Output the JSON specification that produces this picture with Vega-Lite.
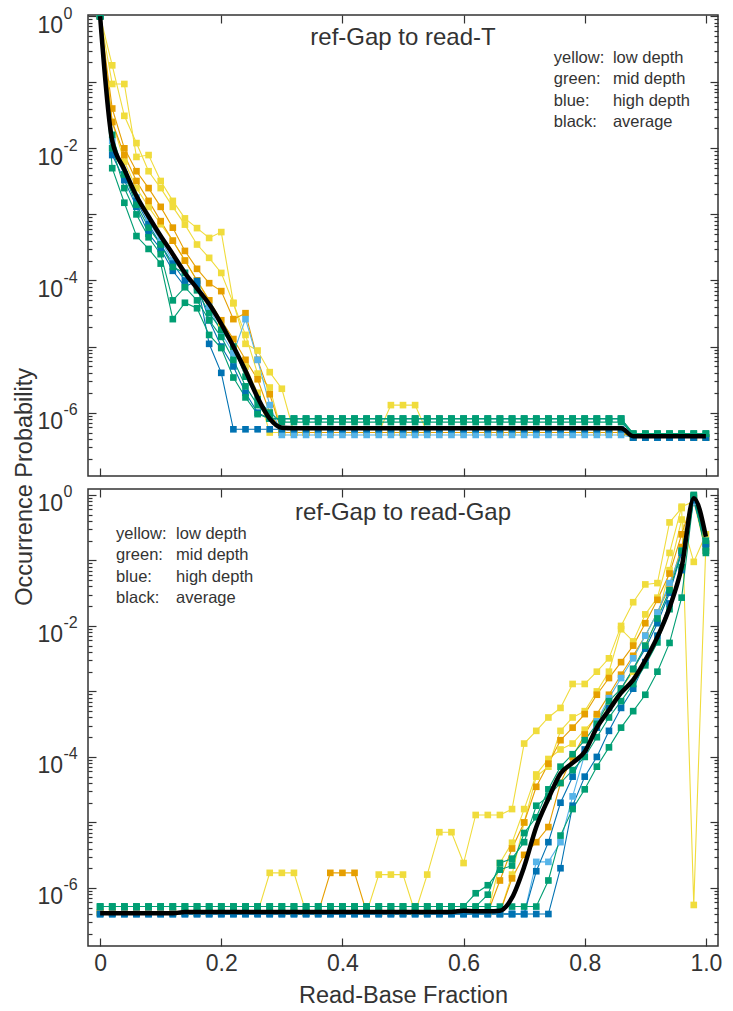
{
"$schema":"https://vega.github.io/schema/vega-lite/v6.json",
"padding":{"left":12,"top":4,"right":14,"bottom":0},
"config":{"font":"Liberation Sans","view":{"stroke":"#333","strokeWidth":1.5},
"axis":{"domain":false,"grid":false,"labelColor":"#333","titleColor":"#333","tickColor":"#333","tickWidth":1.2,"labelOverlap":false,"labelFlush":false,"titleFontWeight":"normal","labelFont":"Liberation Sans","titleFont":"Liberation Sans"},
"text":{"font":"Liberation Sans","color":"#333"},
"title":{"font":"Liberation Sans","fontWeight":"normal","color":"#333"}},
"title":{"text":"Occurrence Probability","orient":"left","anchor":"middle","fontSize":23.5,"offset":0,"dx":19},
"spacing":5,
"datasets":{
"T":[
{"s":"y1","x":0,"v":1},{"s":"y1","x":0.02,"v":0.094},{"s":"y1","x":0.04,"v":0.094},{"s":"y1","x":0.06,"v":0.0074},{"s":"y1","x":0.08,"v":0.0079},{"s":"y1","x":0.1,"v":0.0032},{"s":"y1","x":0.12,"v":0.0016},{"s":"y1","x":0.14,"v":0.00087},{"s":"y1","x":0.16,"v":0.00062},{"s":"y1","x":0.18,"v":0.00044},{"s":"y1","x":0.2,"v":0.00054},{"s":"y1","x":0.22,"v":4.6e-5},{"s":"y1","x":0.24,"v":1.1e-5},{"s":"y1","x":0.26,"v":8.7e-6},{"s":"y1","x":0.28,"v":4.1e-6},{"s":"y1","x":0.3,"v":2.3e-6},{"s":"y1","x":0.32,"v":5e-7},{"s":"y1","x":0.34,"v":5e-7},{"s":"y1","x":0.36,"v":5e-7},{"s":"y1","x":0.38,"v":5e-7},{"s":"y1","x":0.4,"v":5e-7},{"s":"y1","x":0.42,"v":5e-7},{"s":"y1","x":0.44,"v":5e-7},{"s":"y1","x":0.46,"v":5e-7},{"s":"y1","x":0.48,"v":5e-7},{"s":"y1","x":0.5,"v":5e-7},{"s":"y1","x":0.52,"v":5e-7},{"s":"y1","x":0.54,"v":5e-7},{"s":"y1","x":0.56,"v":5e-7},{"s":"y1","x":0.58,"v":5e-7},{"s":"y1","x":0.6,"v":5e-7},{"s":"y1","x":0.62,"v":5e-7},{"s":"y1","x":0.64,"v":5e-7},{"s":"y1","x":0.66,"v":5e-7},{"s":"y1","x":0.68,"v":5e-7},{"s":"y1","x":0.7,"v":5e-7},{"s":"y1","x":0.72,"v":5e-7},{"s":"y1","x":0.74,"v":5e-7},{"s":"y1","x":0.76,"v":5e-7},{"s":"y1","x":0.78,"v":5e-7},{"s":"y1","x":0.8,"v":5e-7},{"s":"y1","x":0.82,"v":5e-7},{"s":"y1","x":0.84,"v":5e-7},{"s":"y1","x":0.86,"v":5e-7},{"s":"y1","x":0.88,"v":4.2e-7},{"s":"y1","x":0.9,"v":4.2e-7},{"s":"y1","x":0.92,"v":4.2e-7},{"s":"y1","x":0.94,"v":4.2e-7},{"s":"y1","x":0.96,"v":4.2e-7},{"s":"y1","x":0.98,"v":4.2e-7},{"s":"y1","x":1,"v":4.2e-7},
{"s":"y2","x":0,"v":1},{"s":"y2","x":0.02,"v":0.18},{"s":"y2","x":0.04,"v":0.031},{"s":"y2","x":0.06,"v":0.012},{"s":"y2","x":0.08,"v":0.0045},{"s":"y2","x":0.1,"v":0.0025},{"s":"y2","x":0.12,"v":0.0013},{"s":"y2","x":0.14,"v":0.0007},{"s":"y2","x":0.16,"v":0.00035},{"s":"y2","x":0.18,"v":0.00022},{"s":"y2","x":0.2,"v":0.00013},{"s":"y2","x":0.22,"v":4.5e-5},{"s":"y2","x":0.24,"v":1.5e-5},{"s":"y2","x":0.26,"v":3.9e-6},{"s":"y2","x":0.28,"v":2.4e-6},{"s":"y2","x":0.3,"v":5e-7},{"s":"y2","x":0.32,"v":5e-7},{"s":"y2","x":0.34,"v":5e-7},{"s":"y2","x":0.36,"v":5e-7},{"s":"y2","x":0.38,"v":5e-7},{"s":"y2","x":0.4,"v":5e-7},{"s":"y2","x":0.42,"v":5e-7},{"s":"y2","x":0.44,"v":5e-7},{"s":"y2","x":0.46,"v":5e-7},{"s":"y2","x":0.48,"v":5e-7},{"s":"y2","x":0.5,"v":5e-7},{"s":"y2","x":0.52,"v":5e-7},{"s":"y2","x":0.54,"v":5e-7},{"s":"y2","x":0.56,"v":5e-7},{"s":"y2","x":0.58,"v":5e-7},{"s":"y2","x":0.6,"v":5e-7},{"s":"y2","x":0.62,"v":5e-7},{"s":"y2","x":0.64,"v":5e-7},{"s":"y2","x":0.66,"v":5e-7},{"s":"y2","x":0.68,"v":5e-7},{"s":"y2","x":0.7,"v":5e-7},{"s":"y2","x":0.72,"v":5e-7},{"s":"y2","x":0.74,"v":5e-7},{"s":"y2","x":0.76,"v":5e-7},{"s":"y2","x":0.78,"v":5e-7},{"s":"y2","x":0.8,"v":5e-7},{"s":"y2","x":0.82,"v":5e-7},{"s":"y2","x":0.84,"v":5e-7},{"s":"y2","x":0.86,"v":5e-7},{"s":"y2","x":0.88,"v":4.2e-7},{"s":"y2","x":0.9,"v":4.2e-7},{"s":"y2","x":0.92,"v":4.2e-7},{"s":"y2","x":0.94,"v":4.2e-7},{"s":"y2","x":0.96,"v":4.2e-7},{"s":"y2","x":0.98,"v":4.2e-7},{"s":"y2","x":1,"v":4.2e-7},
{"s":"y3","x":0,"v":1},{"s":"y3","x":0.02,"v":0.025},{"s":"y3","x":0.04,"v":0.0063},{"s":"y3","x":0.06,"v":0.0025},{"s":"y3","x":0.08,"v":0.0013},{"s":"y3","x":0.1,"v":0.00071},{"s":"y3","x":0.12,"v":0.0004},{"s":"y3","x":0.14,"v":0.0002},{"s":"y3","x":0.16,"v":0.0001},{"s":"y3","x":0.18,"v":5e-5},{"s":"y3","x":0.2,"v":2e-5},{"s":"y3","x":0.22,"v":1e-5},{"s":"y3","x":0.24,"v":5e-6},{"s":"y3","x":0.26,"v":2e-6},{"s":"y3","x":0.28,"v":5e-7},{"s":"y3","x":0.3,"v":5e-7},{"s":"y3","x":0.32,"v":5e-7},{"s":"y3","x":0.34,"v":5e-7},{"s":"y3","x":0.36,"v":5e-7},{"s":"y3","x":0.38,"v":5e-7},{"s":"y3","x":0.4,"v":5e-7},{"s":"y3","x":0.42,"v":5e-7},{"s":"y3","x":0.44,"v":5e-7},{"s":"y3","x":0.46,"v":5e-7},{"s":"y3","x":0.48,"v":1.3e-6},{"s":"y3","x":0.5,"v":1.3e-6},{"s":"y3","x":0.52,"v":1.3e-6},{"s":"y3","x":0.54,"v":5e-7},{"s":"y3","x":0.56,"v":5e-7},{"s":"y3","x":0.58,"v":5e-7},{"s":"y3","x":0.6,"v":5e-7},{"s":"y3","x":0.62,"v":5e-7},{"s":"y3","x":0.64,"v":5e-7},{"s":"y3","x":0.66,"v":5e-7},{"s":"y3","x":0.68,"v":5e-7},{"s":"y3","x":0.7,"v":5e-7},{"s":"y3","x":0.72,"v":5e-7},{"s":"y3","x":0.74,"v":5e-7},{"s":"y3","x":0.76,"v":5e-7},{"s":"y3","x":0.78,"v":5e-7},{"s":"y3","x":0.8,"v":5e-7},{"s":"y3","x":0.82,"v":5e-7},{"s":"y3","x":0.84,"v":5e-7},{"s":"y3","x":0.86,"v":5e-7},{"s":"y3","x":0.88,"v":4.2e-7},{"s":"y3","x":0.9,"v":4.2e-7},{"s":"y3","x":0.92,"v":4.2e-7},{"s":"y3","x":0.94,"v":4.2e-7},{"s":"y3","x":0.96,"v":4.2e-7},{"s":"y3","x":0.98,"v":4.2e-7},{"s":"y3","x":1,"v":4.2e-7},
{"s":"o1","x":0,"v":1},{"s":"o1","x":0.02,"v":0.04},{"s":"o1","x":0.04,"v":0.01},{"s":"o1","x":0.06,"v":0.0045},{"s":"o1","x":0.08,"v":0.0025},{"s":"o1","x":0.1,"v":0.0013},{"s":"o1","x":0.12,"v":0.00063},{"s":"o1","x":0.14,"v":0.00028},{"s":"o1","x":0.16,"v":0.00015},{"s":"o1","x":0.18,"v":9.1e-5},{"s":"o1","x":0.2,"v":6.9e-5},{"s":"o1","x":0.22,"v":2.6e-5},{"s":"o1","x":0.24,"v":3.2e-5},{"s":"o1","x":0.26,"v":6.3e-6},{"s":"o1","x":0.28,"v":1.9e-6},{"s":"o1","x":0.3,"v":5e-7},{"s":"o1","x":0.32,"v":5e-7},{"s":"o1","x":0.34,"v":5e-7},{"s":"o1","x":0.36,"v":5e-7},{"s":"o1","x":0.38,"v":5e-7},{"s":"o1","x":0.4,"v":5e-7},{"s":"o1","x":0.42,"v":5e-7},{"s":"o1","x":0.44,"v":5e-7},{"s":"o1","x":0.46,"v":5e-7},{"s":"o1","x":0.48,"v":5e-7},{"s":"o1","x":0.5,"v":5e-7},{"s":"o1","x":0.52,"v":5e-7},{"s":"o1","x":0.54,"v":5e-7},{"s":"o1","x":0.56,"v":5e-7},{"s":"o1","x":0.58,"v":5e-7},{"s":"o1","x":0.6,"v":5e-7},{"s":"o1","x":0.62,"v":5e-7},{"s":"o1","x":0.64,"v":5e-7},{"s":"o1","x":0.66,"v":5e-7},{"s":"o1","x":0.68,"v":5e-7},{"s":"o1","x":0.7,"v":5e-7},{"s":"o1","x":0.72,"v":5e-7},{"s":"o1","x":0.74,"v":5e-7},{"s":"o1","x":0.76,"v":5e-7},{"s":"o1","x":0.78,"v":5e-7},{"s":"o1","x":0.8,"v":5e-7},{"s":"o1","x":0.82,"v":5e-7},{"s":"o1","x":0.84,"v":5e-7},{"s":"o1","x":0.86,"v":5e-7},{"s":"o1","x":0.88,"v":4.2e-7},{"s":"o1","x":0.9,"v":4.2e-7},{"s":"o1","x":0.92,"v":4.2e-7},{"s":"o1","x":0.94,"v":4.2e-7},{"s":"o1","x":0.96,"v":4.2e-7},{"s":"o1","x":0.98,"v":4.2e-7},{"s":"o1","x":1,"v":4.2e-7},
{"s":"o2","x":0,"v":1},{"s":"o2","x":0.02,"v":0.025},{"s":"o2","x":0.04,"v":0.0079},{"s":"o2","x":0.06,"v":0.0032},{"s":"o2","x":0.08,"v":0.0016},{"s":"o2","x":0.1,"v":0.00079},{"s":"o2","x":0.12,"v":0.0004},{"s":"o2","x":0.14,"v":0.0002},{"s":"o2","x":0.16,"v":0.0001},{"s":"o2","x":0.18,"v":5e-5},{"s":"o2","x":0.2,"v":2.5e-5},{"s":"o2","x":0.22,"v":1.3e-5},{"s":"o2","x":0.24,"v":6.3e-6},{"s":"o2","x":0.26,"v":3.2e-6},{"s":"o2","x":0.28,"v":1e-6},{"s":"o2","x":0.3,"v":5e-7},{"s":"o2","x":0.32,"v":5e-7},{"s":"o2","x":0.34,"v":5e-7},{"s":"o2","x":0.36,"v":5e-7},{"s":"o2","x":0.38,"v":5e-7},{"s":"o2","x":0.4,"v":5e-7},{"s":"o2","x":0.42,"v":5e-7},{"s":"o2","x":0.44,"v":5e-7},{"s":"o2","x":0.46,"v":5e-7},{"s":"o2","x":0.48,"v":5e-7},{"s":"o2","x":0.5,"v":5e-7},{"s":"o2","x":0.52,"v":5e-7},{"s":"o2","x":0.54,"v":5e-7},{"s":"o2","x":0.56,"v":5e-7},{"s":"o2","x":0.58,"v":5e-7},{"s":"o2","x":0.6,"v":5e-7},{"s":"o2","x":0.62,"v":5e-7},{"s":"o2","x":0.64,"v":5e-7},{"s":"o2","x":0.66,"v":5e-7},{"s":"o2","x":0.68,"v":5e-7},{"s":"o2","x":0.7,"v":5e-7},{"s":"o2","x":0.72,"v":5e-7},{"s":"o2","x":0.74,"v":5e-7},{"s":"o2","x":0.76,"v":5e-7},{"s":"o2","x":0.78,"v":5e-7},{"s":"o2","x":0.8,"v":5e-7},{"s":"o2","x":0.82,"v":5e-7},{"s":"o2","x":0.84,"v":5e-7},{"s":"o2","x":0.86,"v":5e-7},{"s":"o2","x":0.88,"v":4.2e-7},{"s":"o2","x":0.9,"v":4.2e-7},{"s":"o2","x":0.92,"v":4.2e-7},{"s":"o2","x":0.94,"v":4.2e-7},{"s":"o2","x":0.96,"v":4.2e-7},{"s":"o2","x":0.98,"v":4.2e-7},{"s":"o2","x":1,"v":4.2e-7},
{"s":"l1","x":0,"v":1},{"s":"l1","x":0.02,"v":0.013},{"s":"l1","x":0.04,"v":0.004},{"s":"l1","x":0.06,"v":0.0018},{"s":"l1","x":0.08,"v":0.00079},{"s":"l1","x":0.1,"v":0.0004},{"s":"l1","x":0.12,"v":0.0002},{"s":"l1","x":0.14,"v":0.00013},{"s":"l1","x":0.16,"v":7.9e-5},{"s":"l1","x":0.18,"v":4e-5},{"s":"l1","x":0.2,"v":1.6e-5},{"s":"l1","x":0.22,"v":7.9e-6},{"s":"l1","x":0.24,"v":2.6e-5},{"s":"l1","x":0.26,"v":6.3e-6},{"s":"l1","x":0.28,"v":1.3e-6},{"s":"l1","x":0.3,"v":4.6e-7},{"s":"l1","x":0.32,"v":4.6e-7},{"s":"l1","x":0.34,"v":4.6e-7},{"s":"l1","x":0.36,"v":4.6e-7},{"s":"l1","x":0.38,"v":4.6e-7},{"s":"l1","x":0.4,"v":4.6e-7},{"s":"l1","x":0.42,"v":4.6e-7},{"s":"l1","x":0.44,"v":4.6e-7},{"s":"l1","x":0.46,"v":4.6e-7},{"s":"l1","x":0.48,"v":4.6e-7},{"s":"l1","x":0.5,"v":4.6e-7},{"s":"l1","x":0.52,"v":4.6e-7},{"s":"l1","x":0.54,"v":4.6e-7},{"s":"l1","x":0.56,"v":4.6e-7},{"s":"l1","x":0.58,"v":4.6e-7},{"s":"l1","x":0.6,"v":4.6e-7},{"s":"l1","x":0.62,"v":4.6e-7},{"s":"l1","x":0.64,"v":4.6e-7},{"s":"l1","x":0.66,"v":4.6e-7},{"s":"l1","x":0.68,"v":4.6e-7},{"s":"l1","x":0.7,"v":4.6e-7},{"s":"l1","x":0.72,"v":4.6e-7},{"s":"l1","x":0.74,"v":4.6e-7},{"s":"l1","x":0.76,"v":4.6e-7},{"s":"l1","x":0.78,"v":4.6e-7},{"s":"l1","x":0.8,"v":4.6e-7},{"s":"l1","x":0.82,"v":4.6e-7},{"s":"l1","x":0.84,"v":4.6e-7},{"s":"l1","x":0.86,"v":4.6e-7},{"s":"l1","x":0.88,"v":4.2e-7},{"s":"l1","x":0.9,"v":4.2e-7},{"s":"l1","x":0.92,"v":4.2e-7},{"s":"l1","x":0.94,"v":4.2e-7},{"s":"l1","x":0.96,"v":4.2e-7},{"s":"l1","x":0.98,"v":4.2e-7},{"s":"l1","x":1,"v":4.2e-7},
{"s":"b1","x":0,"v":1},{"s":"b1","x":0.02,"v":0.0079},{"s":"b1","x":0.04,"v":0.0033},{"s":"b1","x":0.06,"v":0.0013},{"s":"b1","x":0.08,"v":0.00051},{"s":"b1","x":0.1,"v":0.0003},{"s":"b1","x":0.12,"v":0.00014},{"s":"b1","x":0.14,"v":8.1e-5},{"s":"b1","x":0.16,"v":9.8e-5},{"s":"b1","x":0.18,"v":1.1e-5},{"s":"b1","x":0.2,"v":4e-6},{"s":"b1","x":0.22,"v":5.6e-7},{"s":"b1","x":0.24,"v":5.6e-7},{"s":"b1","x":0.26,"v":5.6e-7},{"s":"b1","x":0.28,"v":5.6e-7},{"s":"b1","x":0.3,"v":5.6e-7},{"s":"b1","x":0.32,"v":5.6e-7},{"s":"b1","x":0.34,"v":5.6e-7},{"s":"b1","x":0.36,"v":5.6e-7},{"s":"b1","x":0.38,"v":5.6e-7},{"s":"b1","x":0.4,"v":5.6e-7},{"s":"b1","x":0.42,"v":5.6e-7},{"s":"b1","x":0.44,"v":5.6e-7},{"s":"b1","x":0.46,"v":5.6e-7},{"s":"b1","x":0.48,"v":5.6e-7},{"s":"b1","x":0.5,"v":5.6e-7},{"s":"b1","x":0.52,"v":5.6e-7},{"s":"b1","x":0.54,"v":5.6e-7},{"s":"b1","x":0.56,"v":5.6e-7},{"s":"b1","x":0.58,"v":5.6e-7},{"s":"b1","x":0.6,"v":5.6e-7},{"s":"b1","x":0.62,"v":5.6e-7},{"s":"b1","x":0.64,"v":5.6e-7},{"s":"b1","x":0.66,"v":5.6e-7},{"s":"b1","x":0.68,"v":5.6e-7},{"s":"b1","x":0.7,"v":5.6e-7},{"s":"b1","x":0.72,"v":5.6e-7},{"s":"b1","x":0.74,"v":5.6e-7},{"s":"b1","x":0.76,"v":5.6e-7},{"s":"b1","x":0.78,"v":5.6e-7},{"s":"b1","x":0.8,"v":5.6e-7},{"s":"b1","x":0.82,"v":5.6e-7},{"s":"b1","x":0.84,"v":5.6e-7},{"s":"b1","x":0.86,"v":5.6e-7},{"s":"b1","x":0.88,"v":4.2e-7},{"s":"b1","x":0.9,"v":4.2e-7},{"s":"b1","x":0.92,"v":4.2e-7},{"s":"b1","x":0.94,"v":4.2e-7},{"s":"b1","x":0.96,"v":4.2e-7},{"s":"b1","x":0.98,"v":4.2e-7},{"s":"b1","x":1,"v":4.2e-7},
{"s":"b2","x":0,"v":1},{"s":"b2","x":0.02,"v":0.01},{"s":"b2","x":0.04,"v":0.004},{"s":"b2","x":0.06,"v":0.0016},{"s":"b2","x":0.08,"v":0.00071},{"s":"b2","x":0.1,"v":0.00035},{"s":"b2","x":0.12,"v":0.00018},{"s":"b2","x":0.14,"v":0.0001},{"s":"b2","x":0.16,"v":8.9e-5},{"s":"b2","x":0.18,"v":2.5e-5},{"s":"b2","x":0.2,"v":1e-5},{"s":"b2","x":0.22,"v":5e-6},{"s":"b2","x":0.24,"v":2e-6},{"s":"b2","x":0.26,"v":1e-6},{"s":"b2","x":0.28,"v":8.1e-7},{"s":"b2","x":0.3,"v":8.1e-7},{"s":"b2","x":0.32,"v":8.1e-7},{"s":"b2","x":0.34,"v":8.1e-7},{"s":"b2","x":0.36,"v":8.1e-7},{"s":"b2","x":0.38,"v":8.1e-7},{"s":"b2","x":0.4,"v":8.1e-7},{"s":"b2","x":0.42,"v":8.1e-7},{"s":"b2","x":0.44,"v":8.1e-7},{"s":"b2","x":0.46,"v":8.1e-7},{"s":"b2","x":0.48,"v":8.1e-7},{"s":"b2","x":0.5,"v":8.1e-7},{"s":"b2","x":0.52,"v":8.1e-7},{"s":"b2","x":0.54,"v":8.1e-7},{"s":"b2","x":0.56,"v":8.1e-7},{"s":"b2","x":0.58,"v":8.1e-7},{"s":"b2","x":0.6,"v":8.1e-7},{"s":"b2","x":0.62,"v":8.1e-7},{"s":"b2","x":0.64,"v":8.1e-7},{"s":"b2","x":0.66,"v":8.1e-7},{"s":"b2","x":0.68,"v":8.1e-7},{"s":"b2","x":0.7,"v":8.1e-7},{"s":"b2","x":0.72,"v":8.1e-7},{"s":"b2","x":0.74,"v":8.1e-7},{"s":"b2","x":0.76,"v":8.1e-7},{"s":"b2","x":0.78,"v":8.1e-7},{"s":"b2","x":0.8,"v":8.1e-7},{"s":"b2","x":0.82,"v":8.1e-7},{"s":"b2","x":0.84,"v":8.1e-7},{"s":"b2","x":0.86,"v":8.1e-7},{"s":"b2","x":0.88,"v":4.2e-7},{"s":"b2","x":0.9,"v":4.2e-7},{"s":"b2","x":0.92,"v":4.2e-7},{"s":"b2","x":0.94,"v":4.2e-7},{"s":"b2","x":0.96,"v":4.2e-7},{"s":"b2","x":0.98,"v":4.2e-7},{"s":"b2","x":1,"v":4.2e-7},
{"s":"g1","x":0,"v":1},{"s":"g1","x":0.02,"v":0.005},{"s":"g1","x":0.04,"v":0.0015},{"s":"g1","x":0.06,"v":0.00047},{"s":"g1","x":0.08,"v":0.0003},{"s":"g1","x":0.1,"v":0.00018},{"s":"g1","x":0.12,"v":2.6e-5},{"s":"g1","x":0.14,"v":4.6e-5},{"s":"g1","x":0.16,"v":3.8e-5},{"s":"g1","x":0.18,"v":1.5e-5},{"s":"g1","x":0.2,"v":9.5e-6},{"s":"g1","x":0.22,"v":3.4e-6},{"s":"g1","x":0.24,"v":1.7e-6},{"s":"g1","x":0.26,"v":9.5e-7},{"s":"g1","x":0.28,"v":8.1e-7},{"s":"g1","x":0.3,"v":8.1e-7},{"s":"g1","x":0.32,"v":8.1e-7},{"s":"g1","x":0.34,"v":8.1e-7},{"s":"g1","x":0.36,"v":8.1e-7},{"s":"g1","x":0.38,"v":8.1e-7},{"s":"g1","x":0.4,"v":8.1e-7},{"s":"g1","x":0.42,"v":8.1e-7},{"s":"g1","x":0.44,"v":8.1e-7},{"s":"g1","x":0.46,"v":8.1e-7},{"s":"g1","x":0.48,"v":8.1e-7},{"s":"g1","x":0.5,"v":8.1e-7},{"s":"g1","x":0.52,"v":8.1e-7},{"s":"g1","x":0.54,"v":8.1e-7},{"s":"g1","x":0.56,"v":8.1e-7},{"s":"g1","x":0.58,"v":8.1e-7},{"s":"g1","x":0.6,"v":8.1e-7},{"s":"g1","x":0.62,"v":8.1e-7},{"s":"g1","x":0.64,"v":8.1e-7},{"s":"g1","x":0.66,"v":8.1e-7},{"s":"g1","x":0.68,"v":8.1e-7},{"s":"g1","x":0.7,"v":8.1e-7},{"s":"g1","x":0.72,"v":8.1e-7},{"s":"g1","x":0.74,"v":8.1e-7},{"s":"g1","x":0.76,"v":8.1e-7},{"s":"g1","x":0.78,"v":8.1e-7},{"s":"g1","x":0.8,"v":8.1e-7},{"s":"g1","x":0.82,"v":8.1e-7},{"s":"g1","x":0.84,"v":8.1e-7},{"s":"g1","x":0.86,"v":8.1e-7},{"s":"g1","x":0.88,"v":4.8e-7},{"s":"g1","x":0.9,"v":4.8e-7},{"s":"g1","x":0.92,"v":4.8e-7},{"s":"g1","x":0.94,"v":4.8e-7},{"s":"g1","x":0.96,"v":4.8e-7},{"s":"g1","x":0.98,"v":4.8e-7},{"s":"g1","x":1,"v":4.8e-7},
{"s":"g2","x":0,"v":1},{"s":"g2","x":0.02,"v":0.01},{"s":"g2","x":0.04,"v":0.0025},{"s":"g2","x":0.06,"v":0.001},{"s":"g2","x":0.08,"v":0.00045},{"s":"g2","x":0.1,"v":0.00025},{"s":"g2","x":0.12,"v":5e-5},{"s":"g2","x":0.14,"v":7.9e-5},{"s":"g2","x":0.16,"v":5e-5},{"s":"g2","x":0.18,"v":2.5e-5},{"s":"g2","x":0.2,"v":1.4e-5},{"s":"g2","x":0.22,"v":6.3e-6},{"s":"g2","x":0.24,"v":2.5e-6},{"s":"g2","x":0.26,"v":1.3e-6},{"s":"g2","x":0.28,"v":8.1e-7},{"s":"g2","x":0.3,"v":8.1e-7},{"s":"g2","x":0.32,"v":8.1e-7},{"s":"g2","x":0.34,"v":8.1e-7},{"s":"g2","x":0.36,"v":8.1e-7},{"s":"g2","x":0.38,"v":8.1e-7},{"s":"g2","x":0.4,"v":8.1e-7},{"s":"g2","x":0.42,"v":8.1e-7},{"s":"g2","x":0.44,"v":8.1e-7},{"s":"g2","x":0.46,"v":8.1e-7},{"s":"g2","x":0.48,"v":8.1e-7},{"s":"g2","x":0.5,"v":8.1e-7},{"s":"g2","x":0.52,"v":8.1e-7},{"s":"g2","x":0.54,"v":8.1e-7},{"s":"g2","x":0.56,"v":8.1e-7},{"s":"g2","x":0.58,"v":8.1e-7},{"s":"g2","x":0.6,"v":8.1e-7},{"s":"g2","x":0.62,"v":8.1e-7},{"s":"g2","x":0.64,"v":8.1e-7},{"s":"g2","x":0.66,"v":8.1e-7},{"s":"g2","x":0.68,"v":8.1e-7},{"s":"g2","x":0.7,"v":8.1e-7},{"s":"g2","x":0.72,"v":8.1e-7},{"s":"g2","x":0.74,"v":8.1e-7},{"s":"g2","x":0.76,"v":8.1e-7},{"s":"g2","x":0.78,"v":8.1e-7},{"s":"g2","x":0.8,"v":8.1e-7},{"s":"g2","x":0.82,"v":8.1e-7},{"s":"g2","x":0.84,"v":8.1e-7},{"s":"g2","x":0.86,"v":8.1e-7},{"s":"g2","x":0.88,"v":4.8e-7},{"s":"g2","x":0.9,"v":4.8e-7},{"s":"g2","x":0.92,"v":4.8e-7},{"s":"g2","x":0.94,"v":4.8e-7},{"s":"g2","x":0.96,"v":4.8e-7},{"s":"g2","x":0.98,"v":4.8e-7},{"s":"g2","x":1,"v":4.8e-7},
{"s":"g3","x":0,"v":1},{"s":"g3","x":0.02,"v":0.016},{"s":"g3","x":0.04,"v":0.004},{"s":"g3","x":0.06,"v":0.0014},{"s":"g3","x":0.08,"v":0.00063},{"s":"g3","x":0.1,"v":0.00035},{"s":"g3","x":0.12,"v":0.00016},{"s":"g3","x":0.14,"v":0.00013},{"s":"g3","x":0.16,"v":7.1e-5},{"s":"g3","x":0.18,"v":3.2e-5},{"s":"g3","x":0.2,"v":1.8e-5},{"s":"g3","x":0.22,"v":1e-5},{"s":"g3","x":0.24,"v":3.5e-6},{"s":"g3","x":0.26,"v":1.6e-6},{"s":"g3","x":0.28,"v":1e-6},{"s":"g3","x":0.3,"v":7.2e-7},{"s":"g3","x":0.32,"v":7.2e-7},{"s":"g3","x":0.34,"v":7.2e-7},{"s":"g3","x":0.36,"v":7.2e-7},{"s":"g3","x":0.38,"v":7.2e-7},{"s":"g3","x":0.4,"v":7.2e-7},{"s":"g3","x":0.42,"v":7.2e-7},{"s":"g3","x":0.44,"v":7.2e-7},{"s":"g3","x":0.46,"v":7.2e-7},{"s":"g3","x":0.48,"v":7.2e-7},{"s":"g3","x":0.5,"v":7.2e-7},{"s":"g3","x":0.52,"v":7.2e-7},{"s":"g3","x":0.54,"v":7.2e-7},{"s":"g3","x":0.56,"v":7.2e-7},{"s":"g3","x":0.58,"v":7.2e-7},{"s":"g3","x":0.6,"v":7.2e-7},{"s":"g3","x":0.62,"v":7.2e-7},{"s":"g3","x":0.64,"v":7.2e-7},{"s":"g3","x":0.66,"v":7.2e-7},{"s":"g3","x":0.68,"v":7.2e-7},{"s":"g3","x":0.7,"v":7.2e-7},{"s":"g3","x":0.72,"v":7.2e-7},{"s":"g3","x":0.74,"v":7.2e-7},{"s":"g3","x":0.76,"v":7.2e-7},{"s":"g3","x":0.78,"v":7.2e-7},{"s":"g3","x":0.8,"v":7.2e-7},{"s":"g3","x":0.82,"v":7.2e-7},{"s":"g3","x":0.84,"v":7.2e-7},{"s":"g3","x":0.86,"v":7.2e-7},{"s":"g3","x":0.88,"v":4.8e-7},{"s":"g3","x":0.9,"v":4.8e-7},{"s":"g3","x":0.92,"v":4.8e-7},{"s":"g3","x":0.94,"v":4.8e-7},{"s":"g3","x":0.96,"v":4.8e-7},{"s":"g3","x":0.98,"v":4.8e-7},{"s":"g3","x":1,"v":4.8e-7},
{"s":"k","x":0,"v":1},{"s":"k","x":0.02,"v":0.013},{"s":"k","x":0.04,"v":0.0048},{"s":"k","x":0.06,"v":0.0019},{"s":"k","x":0.08,"v":0.00093},{"s":"k","x":0.1,"v":0.00047},{"s":"k","x":0.12,"v":0.00025},{"s":"k","x":0.14,"v":0.00013},{"s":"k","x":0.16,"v":7.6e-5},{"s":"k","x":0.18,"v":4.4e-5},{"s":"k","x":0.2,"v":2.2e-5},{"s":"k","x":0.22,"v":1e-5},{"s":"k","x":0.24,"v":4.3e-6},{"s":"k","x":0.26,"v":1.7e-6},{"s":"k","x":0.28,"v":8.1e-7},{"s":"k","x":0.3,"v":5.9e-7},{"s":"k","x":0.32,"v":5.8e-7},{"s":"k","x":0.34,"v":5.8e-7},{"s":"k","x":0.36,"v":5.8e-7},{"s":"k","x":0.38,"v":5.8e-7},{"s":"k","x":0.4,"v":5.8e-7},{"s":"k","x":0.42,"v":5.8e-7},{"s":"k","x":0.44,"v":5.8e-7},{"s":"k","x":0.46,"v":5.8e-7},{"s":"k","x":0.48,"v":5.8e-7},{"s":"k","x":0.5,"v":5.8e-7},{"s":"k","x":0.52,"v":5.8e-7},{"s":"k","x":0.54,"v":5.8e-7},{"s":"k","x":0.56,"v":5.8e-7},{"s":"k","x":0.58,"v":5.8e-7},{"s":"k","x":0.6,"v":5.8e-7},{"s":"k","x":0.62,"v":5.8e-7},{"s":"k","x":0.64,"v":5.8e-7},{"s":"k","x":0.66,"v":5.8e-7},{"s":"k","x":0.68,"v":5.8e-7},{"s":"k","x":0.7,"v":5.8e-7},{"s":"k","x":0.72,"v":5.8e-7},{"s":"k","x":0.74,"v":5.8e-7},{"s":"k","x":0.76,"v":5.8e-7},{"s":"k","x":0.78,"v":5.8e-7},{"s":"k","x":0.8,"v":5.8e-7},{"s":"k","x":0.82,"v":5.8e-7},{"s":"k","x":0.84,"v":5.8e-7},{"s":"k","x":0.86,"v":5.8e-7},{"s":"k","x":0.88,"v":4.4e-7},{"s":"k","x":0.9,"v":4.4e-7},{"s":"k","x":0.92,"v":4.4e-7},{"s":"k","x":0.94,"v":4.4e-7},{"s":"k","x":0.96,"v":4.4e-7},{"s":"k","x":0.98,"v":4.4e-7},{"s":"k","x":1,"v":4.4e-7}
],
"G":[
{"s":"y1","x":0,"v":4.2e-7},{"s":"y1","x":0.02,"v":4.2e-7},{"s":"y1","x":0.04,"v":4.2e-7},{"s":"y1","x":0.06,"v":4.2e-7},{"s":"y1","x":0.08,"v":4.2e-7},{"s":"y1","x":0.1,"v":4.2e-7},{"s":"y1","x":0.12,"v":4.2e-7},{"s":"y1","x":0.14,"v":4.2e-7},{"s":"y1","x":0.16,"v":4.2e-7},{"s":"y1","x":0.18,"v":4.2e-7},{"s":"y1","x":0.2,"v":4.2e-7},{"s":"y1","x":0.22,"v":4.2e-7},{"s":"y1","x":0.24,"v":4.2e-7},{"s":"y1","x":0.26,"v":4.2e-7},{"s":"y1","x":0.28,"v":1.7e-6},{"s":"y1","x":0.3,"v":1.7e-6},{"s":"y1","x":0.32,"v":1.7e-6},{"s":"y1","x":0.34,"v":4.2e-7},{"s":"y1","x":0.36,"v":4.2e-7},{"s":"y1","x":0.38,"v":4.2e-7},{"s":"y1","x":0.4,"v":4.2e-7},{"s":"y1","x":0.42,"v":4.2e-7},{"s":"y1","x":0.44,"v":4.2e-7},{"s":"y1","x":0.46,"v":1.6e-6},{"s":"y1","x":0.48,"v":1.6e-6},{"s":"y1","x":0.5,"v":1.6e-6},{"s":"y1","x":0.52,"v":4.2e-7},{"s":"y1","x":0.54,"v":1.6e-6},{"s":"y1","x":0.56,"v":7.1e-6},{"s":"y1","x":0.58,"v":7.1e-6},{"s":"y1","x":0.6,"v":2.4e-6},{"s":"y1","x":0.62,"v":1.3e-5},{"s":"y1","x":0.64,"v":1.3e-5},{"s":"y1","x":0.66,"v":1.3e-5},{"s":"y1","x":0.68,"v":1.6e-5},{"s":"y1","x":0.7,"v":0.00016},{"s":"y1","x":0.72,"v":0.00025},{"s":"y1","x":0.74,"v":0.0004},{"s":"y1","x":0.76,"v":0.00056},{"s":"y1","x":0.78,"v":0.0013},{"s":"y1","x":0.8,"v":0.0013},{"s":"y1","x":0.82,"v":0.002},{"s":"y1","x":0.84,"v":0.0032},{"s":"y1","x":0.86,"v":0.01},{"s":"y1","x":0.88,"v":0.023},{"s":"y1","x":0.9,"v":0.043},{"s":"y1","x":0.92,"v":0.045},{"s":"y1","x":0.94,"v":0.38},{"s":"y1","x":0.96,"v":0.63},{"s":"y1","x":0.98,"v":5.5e-7},{"s":"y1","x":1,"v":0.18},
{"s":"y2","x":0,"v":4.2e-7},{"s":"y2","x":0.02,"v":4.2e-7},{"s":"y2","x":0.04,"v":4.2e-7},{"s":"y2","x":0.06,"v":4.2e-7},{"s":"y2","x":0.08,"v":4.2e-7},{"s":"y2","x":0.1,"v":4.2e-7},{"s":"y2","x":0.12,"v":4.2e-7},{"s":"y2","x":0.14,"v":4.2e-7},{"s":"y2","x":0.16,"v":4.2e-7},{"s":"y2","x":0.18,"v":4.2e-7},{"s":"y2","x":0.2,"v":4.2e-7},{"s":"y2","x":0.22,"v":4.2e-7},{"s":"y2","x":0.24,"v":4.2e-7},{"s":"y2","x":0.26,"v":4.2e-7},{"s":"y2","x":0.28,"v":4.2e-7},{"s":"y2","x":0.3,"v":4.2e-7},{"s":"y2","x":0.32,"v":4.2e-7},{"s":"y2","x":0.34,"v":4.2e-7},{"s":"y2","x":0.36,"v":4.2e-7},{"s":"y2","x":0.38,"v":4.2e-7},{"s":"y2","x":0.4,"v":4.2e-7},{"s":"y2","x":0.42,"v":4.2e-7},{"s":"y2","x":0.44,"v":4.2e-7},{"s":"y2","x":0.46,"v":4.2e-7},{"s":"y2","x":0.48,"v":4.2e-7},{"s":"y2","x":0.5,"v":4.2e-7},{"s":"y2","x":0.52,"v":4.2e-7},{"s":"y2","x":0.54,"v":4.2e-7},{"s":"y2","x":0.56,"v":4.2e-7},{"s":"y2","x":0.58,"v":4.2e-7},{"s":"y2","x":0.6,"v":4.2e-7},{"s":"y2","x":0.62,"v":4.2e-7},{"s":"y2","x":0.64,"v":4.2e-7},{"s":"y2","x":0.66,"v":2.4e-6},{"s":"y2","x":0.68,"v":4.9e-6},{"s":"y2","x":0.7,"v":1.6e-5},{"s":"y2","x":0.72,"v":5.4e-5},{"s":"y2","x":0.74,"v":9.3e-5},{"s":"y2","x":0.76,"v":0.00013},{"s":"y2","x":0.78,"v":0.00016},{"s":"y2","x":0.8,"v":0.00026},{"s":"y2","x":0.82,"v":0.00041},{"s":"y2","x":0.84,"v":0.00058},{"s":"y2","x":0.86,"v":0.0011},{"s":"y2","x":0.88,"v":0.002},{"s":"y2","x":0.9,"v":0.005},{"s":"y2","x":0.92,"v":0.013},{"s":"y2","x":0.94,"v":0.071},{"s":"y2","x":0.96,"v":0.42},{"s":"y2","x":0.98,"v":0.095},{"s":"y2","x":1,"v":0.25},
{"s":"y3","x":0,"v":4.2e-7},{"s":"y3","x":0.02,"v":4.2e-7},{"s":"y3","x":0.04,"v":4.2e-7},{"s":"y3","x":0.06,"v":4.2e-7},{"s":"y3","x":0.08,"v":4.2e-7},{"s":"y3","x":0.1,"v":4.2e-7},{"s":"y3","x":0.12,"v":4.2e-7},{"s":"y3","x":0.14,"v":4.2e-7},{"s":"y3","x":0.16,"v":4.2e-7},{"s":"y3","x":0.18,"v":4.2e-7},{"s":"y3","x":0.2,"v":4.2e-7},{"s":"y3","x":0.22,"v":4.2e-7},{"s":"y3","x":0.24,"v":4.2e-7},{"s":"y3","x":0.26,"v":4.2e-7},{"s":"y3","x":0.28,"v":4.2e-7},{"s":"y3","x":0.3,"v":4.2e-7},{"s":"y3","x":0.32,"v":4.2e-7},{"s":"y3","x":0.34,"v":4.2e-7},{"s":"y3","x":0.36,"v":4.2e-7},{"s":"y3","x":0.38,"v":4.2e-7},{"s":"y3","x":0.4,"v":4.2e-7},{"s":"y3","x":0.42,"v":4.2e-7},{"s":"y3","x":0.44,"v":4.2e-7},{"s":"y3","x":0.46,"v":4.2e-7},{"s":"y3","x":0.48,"v":4.2e-7},{"s":"y3","x":0.5,"v":4.2e-7},{"s":"y3","x":0.52,"v":4.2e-7},{"s":"y3","x":0.54,"v":4.2e-7},{"s":"y3","x":0.56,"v":4.2e-7},{"s":"y3","x":0.58,"v":4.2e-7},{"s":"y3","x":0.6,"v":4.2e-7},{"s":"y3","x":0.62,"v":4.2e-7},{"s":"y3","x":0.64,"v":4.2e-7},{"s":"y3","x":0.66,"v":4.2e-7},{"s":"y3","x":0.68,"v":1.6e-6},{"s":"y3","x":0.7,"v":1e-5},{"s":"y3","x":0.72,"v":5e-5},{"s":"y3","x":0.74,"v":7.1e-5},{"s":"y3","x":0.76,"v":0.00025},{"s":"y3","x":0.78,"v":0.0004},{"s":"y3","x":0.8,"v":0.0005},{"s":"y3","x":0.82,"v":0.001},{"s":"y3","x":0.84,"v":0.002},{"s":"y3","x":0.86,"v":0.0089},{"s":"y3","x":0.88,"v":0.0058},{"s":"y3","x":0.9,"v":0.015},{"s":"y3","x":0.92,"v":0.027},{"s":"y3","x":0.94,"v":0.13},{"s":"y3","x":0.96,"v":0.66},{"s":"y3","x":0.98,"v":0.79},{"s":"y3","x":1,"v":0.14},
{"s":"o1","x":0,"v":4.2e-7},{"s":"o1","x":0.02,"v":4.2e-7},{"s":"o1","x":0.04,"v":4.2e-7},{"s":"o1","x":0.06,"v":4.2e-7},{"s":"o1","x":0.08,"v":4.2e-7},{"s":"o1","x":0.1,"v":4.2e-7},{"s":"o1","x":0.12,"v":4.2e-7},{"s":"o1","x":0.14,"v":4.2e-7},{"s":"o1","x":0.16,"v":4.2e-7},{"s":"o1","x":0.18,"v":4.2e-7},{"s":"o1","x":0.2,"v":4.2e-7},{"s":"o1","x":0.22,"v":4.2e-7},{"s":"o1","x":0.24,"v":4.2e-7},{"s":"o1","x":0.26,"v":4.2e-7},{"s":"o1","x":0.28,"v":4.2e-7},{"s":"o1","x":0.3,"v":4.2e-7},{"s":"o1","x":0.32,"v":4.2e-7},{"s":"o1","x":0.34,"v":4.2e-7},{"s":"o1","x":0.36,"v":4.2e-7},{"s":"o1","x":0.38,"v":1.7e-6},{"s":"o1","x":0.4,"v":1.7e-6},{"s":"o1","x":0.42,"v":1.7e-6},{"s":"o1","x":0.44,"v":4.2e-7},{"s":"o1","x":0.46,"v":4.2e-7},{"s":"o1","x":0.48,"v":4.2e-7},{"s":"o1","x":0.5,"v":4.2e-7},{"s":"o1","x":0.52,"v":4.2e-7},{"s":"o1","x":0.54,"v":4.2e-7},{"s":"o1","x":0.56,"v":4.2e-7},{"s":"o1","x":0.58,"v":4.2e-7},{"s":"o1","x":0.6,"v":4.2e-7},{"s":"o1","x":0.62,"v":4.2e-7},{"s":"o1","x":0.64,"v":4.2e-7},{"s":"o1","x":0.66,"v":1.3e-6},{"s":"o1","x":0.68,"v":4e-6},{"s":"o1","x":0.7,"v":1e-5},{"s":"o1","x":0.72,"v":3.5e-5},{"s":"o1","x":0.74,"v":7.9e-5},{"s":"o1","x":0.76,"v":0.00018},{"s":"o1","x":0.78,"v":0.00028},{"s":"o1","x":0.8,"v":0.00045},{"s":"o1","x":0.82,"v":0.00089},{"s":"o1","x":0.84,"v":0.0016},{"s":"o1","x":0.86,"v":0.0028},{"s":"o1","x":0.88,"v":0.005},{"s":"o1","x":0.9,"v":0.011},{"s":"o1","x":0.92,"v":0.025},{"s":"o1","x":0.94,"v":0.063},{"s":"o1","x":0.96,"v":0.25},{"s":"o1","x":0.98,"v":0.93},{"s":"o1","x":1,"v":0.18},
{"s":"o2","x":0,"v":4.2e-7},{"s":"o2","x":0.02,"v":4.2e-7},{"s":"o2","x":0.04,"v":4.2e-7},{"s":"o2","x":0.06,"v":4.2e-7},{"s":"o2","x":0.08,"v":4.2e-7},{"s":"o2","x":0.1,"v":4.2e-7},{"s":"o2","x":0.12,"v":4.2e-7},{"s":"o2","x":0.14,"v":4.2e-7},{"s":"o2","x":0.16,"v":4.2e-7},{"s":"o2","x":0.18,"v":4.2e-7},{"s":"o2","x":0.2,"v":4.2e-7},{"s":"o2","x":0.22,"v":4.2e-7},{"s":"o2","x":0.24,"v":4.2e-7},{"s":"o2","x":0.26,"v":4.2e-7},{"s":"o2","x":0.28,"v":4.2e-7},{"s":"o2","x":0.3,"v":4.2e-7},{"s":"o2","x":0.32,"v":4.2e-7},{"s":"o2","x":0.34,"v":4.2e-7},{"s":"o2","x":0.36,"v":4.2e-7},{"s":"o2","x":0.38,"v":4.2e-7},{"s":"o2","x":0.4,"v":4.2e-7},{"s":"o2","x":0.42,"v":4.2e-7},{"s":"o2","x":0.44,"v":4.2e-7},{"s":"o2","x":0.46,"v":4.2e-7},{"s":"o2","x":0.48,"v":4.2e-7},{"s":"o2","x":0.5,"v":4.2e-7},{"s":"o2","x":0.52,"v":4.2e-7},{"s":"o2","x":0.54,"v":4.2e-7},{"s":"o2","x":0.56,"v":4.2e-7},{"s":"o2","x":0.58,"v":4.2e-7},{"s":"o2","x":0.6,"v":4.2e-7},{"s":"o2","x":0.62,"v":4.2e-7},{"s":"o2","x":0.64,"v":4.2e-7},{"s":"o2","x":0.66,"v":4.2e-7},{"s":"o2","x":0.68,"v":1.4e-6},{"s":"o2","x":0.7,"v":3.2e-6},{"s":"o2","x":0.72,"v":5e-6},{"s":"o2","x":0.74,"v":8.5e-6},{"s":"o2","x":0.76,"v":4e-5},{"s":"o2","x":0.78,"v":0.0001},{"s":"o2","x":0.8,"v":0.00022},{"s":"o2","x":0.82,"v":0.00045},{"s":"o2","x":0.84,"v":0.00089},{"s":"o2","x":0.86,"v":0.0018},{"s":"o2","x":0.88,"v":0.0035},{"s":"o2","x":0.9,"v":0.0071},{"s":"o2","x":0.92,"v":0.016},{"s":"o2","x":0.94,"v":0.04},{"s":"o2","x":0.96,"v":0.16},{"s":"o2","x":0.98,"v":0.89},{"s":"o2","x":1,"v":0.16},
{"s":"l1","x":0,"v":4e-7},{"s":"l1","x":0.02,"v":4e-7},{"s":"l1","x":0.04,"v":4e-7},{"s":"l1","x":0.06,"v":4e-7},{"s":"l1","x":0.08,"v":4e-7},{"s":"l1","x":0.1,"v":4e-7},{"s":"l1","x":0.12,"v":4e-7},{"s":"l1","x":0.14,"v":4e-7},{"s":"l1","x":0.16,"v":4e-7},{"s":"l1","x":0.18,"v":4e-7},{"s":"l1","x":0.2,"v":4e-7},{"s":"l1","x":0.22,"v":4e-7},{"s":"l1","x":0.24,"v":4e-7},{"s":"l1","x":0.26,"v":4e-7},{"s":"l1","x":0.28,"v":4e-7},{"s":"l1","x":0.3,"v":4e-7},{"s":"l1","x":0.32,"v":4e-7},{"s":"l1","x":0.34,"v":4e-7},{"s":"l1","x":0.36,"v":4e-7},{"s":"l1","x":0.38,"v":4e-7},{"s":"l1","x":0.4,"v":4e-7},{"s":"l1","x":0.42,"v":4e-7},{"s":"l1","x":0.44,"v":4e-7},{"s":"l1","x":0.46,"v":4e-7},{"s":"l1","x":0.48,"v":4e-7},{"s":"l1","x":0.5,"v":4e-7},{"s":"l1","x":0.52,"v":4e-7},{"s":"l1","x":0.54,"v":4e-7},{"s":"l1","x":0.56,"v":4e-7},{"s":"l1","x":0.58,"v":4e-7},{"s":"l1","x":0.6,"v":4e-7},{"s":"l1","x":0.62,"v":4e-7},{"s":"l1","x":0.64,"v":4e-7},{"s":"l1","x":0.66,"v":4e-7},{"s":"l1","x":0.68,"v":4e-7},{"s":"l1","x":0.7,"v":4e-7},{"s":"l1","x":0.72,"v":2.5e-6},{"s":"l1","x":0.74,"v":2.5e-6},{"s":"l1","x":0.76,"v":5e-6},{"s":"l1","x":0.78,"v":2.5e-5},{"s":"l1","x":0.8,"v":0.00011},{"s":"l1","x":0.82,"v":0.00035},{"s":"l1","x":0.84,"v":0.00079},{"s":"l1","x":0.86,"v":0.0016},{"s":"l1","x":0.88,"v":0.0032},{"s":"l1","x":0.9,"v":0.0071},{"s":"l1","x":0.92,"v":0.016},{"s":"l1","x":0.94,"v":0.045},{"s":"l1","x":0.96,"v":0.14},{"s":"l1","x":0.98,"v":0.79},{"s":"l1","x":1,"v":0.18},
{"s":"b1","x":0,"v":4e-7},{"s":"b1","x":0.02,"v":4e-7},{"s":"b1","x":0.04,"v":4e-7},{"s":"b1","x":0.06,"v":4e-7},{"s":"b1","x":0.08,"v":4e-7},{"s":"b1","x":0.1,"v":4e-7},{"s":"b1","x":0.12,"v":4e-7},{"s":"b1","x":0.14,"v":4e-7},{"s":"b1","x":0.16,"v":4e-7},{"s":"b1","x":0.18,"v":4e-7},{"s":"b1","x":0.2,"v":4e-7},{"s":"b1","x":0.22,"v":4e-7},{"s":"b1","x":0.24,"v":4e-7},{"s":"b1","x":0.26,"v":4e-7},{"s":"b1","x":0.28,"v":4e-7},{"s":"b1","x":0.3,"v":4e-7},{"s":"b1","x":0.32,"v":4e-7},{"s":"b1","x":0.34,"v":4e-7},{"s":"b1","x":0.36,"v":4e-7},{"s":"b1","x":0.38,"v":4e-7},{"s":"b1","x":0.4,"v":4e-7},{"s":"b1","x":0.42,"v":4e-7},{"s":"b1","x":0.44,"v":4e-7},{"s":"b1","x":0.46,"v":4e-7},{"s":"b1","x":0.48,"v":4e-7},{"s":"b1","x":0.5,"v":4e-7},{"s":"b1","x":0.52,"v":4e-7},{"s":"b1","x":0.54,"v":4e-7},{"s":"b1","x":0.56,"v":4e-7},{"s":"b1","x":0.58,"v":4e-7},{"s":"b1","x":0.6,"v":4e-7},{"s":"b1","x":0.62,"v":4e-7},{"s":"b1","x":0.64,"v":4e-7},{"s":"b1","x":0.66,"v":4e-7},{"s":"b1","x":0.68,"v":4e-7},{"s":"b1","x":0.7,"v":4e-7},{"s":"b1","x":0.72,"v":1.8e-6},{"s":"b1","x":0.74,"v":5e-6},{"s":"b1","x":0.76,"v":2e-5},{"s":"b1","x":0.78,"v":5e-5},{"s":"b1","x":0.8,"v":0.00013},{"s":"b1","x":0.82,"v":0.00028},{"s":"b1","x":0.84,"v":0.00056},{"s":"b1","x":0.86,"v":0.0011},{"s":"b1","x":0.88,"v":0.0022},{"s":"b1","x":0.9,"v":0.0045},{"s":"b1","x":0.92,"v":0.011},{"s":"b1","x":0.94,"v":0.032},{"s":"b1","x":0.96,"v":0.13},{"s":"b1","x":0.98,"v":0.89},{"s":"b1","x":1,"v":0.18},
{"s":"b2","x":0,"v":4e-7},{"s":"b2","x":0.02,"v":4e-7},{"s":"b2","x":0.04,"v":4e-7},{"s":"b2","x":0.06,"v":4e-7},{"s":"b2","x":0.08,"v":4e-7},{"s":"b2","x":0.1,"v":4e-7},{"s":"b2","x":0.12,"v":4e-7},{"s":"b2","x":0.14,"v":4e-7},{"s":"b2","x":0.16,"v":4e-7},{"s":"b2","x":0.18,"v":4e-7},{"s":"b2","x":0.2,"v":4e-7},{"s":"b2","x":0.22,"v":4e-7},{"s":"b2","x":0.24,"v":4e-7},{"s":"b2","x":0.26,"v":4e-7},{"s":"b2","x":0.28,"v":4e-7},{"s":"b2","x":0.3,"v":4e-7},{"s":"b2","x":0.32,"v":4e-7},{"s":"b2","x":0.34,"v":4e-7},{"s":"b2","x":0.36,"v":4e-7},{"s":"b2","x":0.38,"v":4e-7},{"s":"b2","x":0.4,"v":4e-7},{"s":"b2","x":0.42,"v":4e-7},{"s":"b2","x":0.44,"v":4e-7},{"s":"b2","x":0.46,"v":4e-7},{"s":"b2","x":0.48,"v":4e-7},{"s":"b2","x":0.5,"v":4e-7},{"s":"b2","x":0.52,"v":4e-7},{"s":"b2","x":0.54,"v":4e-7},{"s":"b2","x":0.56,"v":4e-7},{"s":"b2","x":0.58,"v":4e-7},{"s":"b2","x":0.6,"v":4e-7},{"s":"b2","x":0.62,"v":4e-7},{"s":"b2","x":0.64,"v":4e-7},{"s":"b2","x":0.66,"v":4e-7},{"s":"b2","x":0.68,"v":4e-7},{"s":"b2","x":0.7,"v":4e-7},{"s":"b2","x":0.72,"v":4e-7},{"s":"b2","x":0.74,"v":4e-7},{"s":"b2","x":0.76,"v":2e-6},{"s":"b2","x":0.78,"v":1.8e-5},{"s":"b2","x":0.8,"v":5e-5},{"s":"b2","x":0.82,"v":0.0001},{"s":"b2","x":0.84,"v":0.00025},{"s":"b2","x":0.86,"v":0.00056},{"s":"b2","x":0.88,"v":0.0011},{"s":"b2","x":0.9,"v":0.0028},{"s":"b2","x":0.92,"v":0.0071},{"s":"b2","x":0.94,"v":0.022},{"s":"b2","x":0.96,"v":0.071},{"s":"b2","x":0.98,"v":0.83},{"s":"b2","x":1,"v":0.16},
{"s":"g1","x":0,"v":5.2e-7},{"s":"g1","x":0.02,"v":5.2e-7},{"s":"g1","x":0.04,"v":5.2e-7},{"s":"g1","x":0.06,"v":5.2e-7},{"s":"g1","x":0.08,"v":5.2e-7},{"s":"g1","x":0.1,"v":5.2e-7},{"s":"g1","x":0.12,"v":5.2e-7},{"s":"g1","x":0.14,"v":5.2e-7},{"s":"g1","x":0.16,"v":5.2e-7},{"s":"g1","x":0.18,"v":5.2e-7},{"s":"g1","x":0.2,"v":5.2e-7},{"s":"g1","x":0.22,"v":5.2e-7},{"s":"g1","x":0.24,"v":5.2e-7},{"s":"g1","x":0.26,"v":5.2e-7},{"s":"g1","x":0.28,"v":5.2e-7},{"s":"g1","x":0.3,"v":5.2e-7},{"s":"g1","x":0.32,"v":5.2e-7},{"s":"g1","x":0.34,"v":5.2e-7},{"s":"g1","x":0.36,"v":5.2e-7},{"s":"g1","x":0.38,"v":5.2e-7},{"s":"g1","x":0.4,"v":5.2e-7},{"s":"g1","x":0.42,"v":5.2e-7},{"s":"g1","x":0.44,"v":5.2e-7},{"s":"g1","x":0.46,"v":5.2e-7},{"s":"g1","x":0.48,"v":5.2e-7},{"s":"g1","x":0.5,"v":5.2e-7},{"s":"g1","x":0.52,"v":5.2e-7},{"s":"g1","x":0.54,"v":5.2e-7},{"s":"g1","x":0.56,"v":5.2e-7},{"s":"g1","x":0.58,"v":5.2e-7},{"s":"g1","x":0.6,"v":5.2e-7},{"s":"g1","x":0.62,"v":8.3e-7},{"s":"g1","x":0.64,"v":1.1e-6},{"s":"g1","x":0.66,"v":1.9e-6},{"s":"g1","x":0.68,"v":2.2e-6},{"s":"g1","x":0.7,"v":6.9e-6},{"s":"g1","x":0.72,"v":1.2e-5},{"s":"g1","x":0.74,"v":3.2e-5},{"s":"g1","x":0.76,"v":7.1e-5},{"s":"g1","x":0.78,"v":0.00011},{"s":"g1","x":0.8,"v":0.00018},{"s":"g1","x":0.82,"v":0.00032},{"s":"g1","x":0.84,"v":0.00071},{"s":"g1","x":0.86,"v":0.0011},{"s":"g1","x":0.88,"v":0.0022},{"s":"g1","x":0.9,"v":0.005},{"s":"g1","x":0.92,"v":0.013},{"s":"g1","x":0.94,"v":0.035},{"s":"g1","x":0.96,"v":0.14},{"s":"g1","x":0.98,"v":1},{"s":"g1","x":1,"v":0.2},
{"s":"g2","x":0,"v":5.2e-7},{"s":"g2","x":0.02,"v":5.2e-7},{"s":"g2","x":0.04,"v":5.2e-7},{"s":"g2","x":0.06,"v":5.2e-7},{"s":"g2","x":0.08,"v":5.2e-7},{"s":"g2","x":0.1,"v":5.2e-7},{"s":"g2","x":0.12,"v":5.2e-7},{"s":"g2","x":0.14,"v":5.2e-7},{"s":"g2","x":0.16,"v":5.2e-7},{"s":"g2","x":0.18,"v":5.2e-7},{"s":"g2","x":0.2,"v":5.2e-7},{"s":"g2","x":0.22,"v":5.2e-7},{"s":"g2","x":0.24,"v":5.2e-7},{"s":"g2","x":0.26,"v":5.2e-7},{"s":"g2","x":0.28,"v":5.2e-7},{"s":"g2","x":0.3,"v":5.2e-7},{"s":"g2","x":0.32,"v":5.2e-7},{"s":"g2","x":0.34,"v":5.2e-7},{"s":"g2","x":0.36,"v":5.2e-7},{"s":"g2","x":0.38,"v":5.2e-7},{"s":"g2","x":0.4,"v":5.2e-7},{"s":"g2","x":0.42,"v":5.2e-7},{"s":"g2","x":0.44,"v":5.2e-7},{"s":"g2","x":0.46,"v":5.2e-7},{"s":"g2","x":0.48,"v":5.2e-7},{"s":"g2","x":0.5,"v":5.2e-7},{"s":"g2","x":0.52,"v":5.2e-7},{"s":"g2","x":0.54,"v":5.2e-7},{"s":"g2","x":0.56,"v":5.2e-7},{"s":"g2","x":0.58,"v":5.2e-7},{"s":"g2","x":0.6,"v":5.2e-7},{"s":"g2","x":0.62,"v":5.2e-7},{"s":"g2","x":0.64,"v":7.9e-7},{"s":"g2","x":0.66,"v":2.4e-6},{"s":"g2","x":0.68,"v":2.8e-6},{"s":"g2","x":0.7,"v":5e-6},{"s":"g2","x":0.72,"v":1.8e-5},{"s":"g2","x":0.74,"v":2.5e-5},{"s":"g2","x":0.76,"v":4e-5},{"s":"g2","x":0.78,"v":6.3e-5},{"s":"g2","x":0.8,"v":0.0001},{"s":"g2","x":0.82,"v":0.0002},{"s":"g2","x":0.84,"v":0.0004},{"s":"g2","x":0.86,"v":0.00071},{"s":"g2","x":0.88,"v":0.0013},{"s":"g2","x":0.9,"v":0.0025},{"s":"g2","x":0.92,"v":0.0056},{"s":"g2","x":0.94,"v":0.018},{"s":"g2","x":0.96,"v":0.079},{"s":"g2","x":0.98,"v":0.98},{"s":"g2","x":1,"v":0.14},
{"s":"g3","x":0,"v":5.2e-7},{"s":"g3","x":0.02,"v":5.2e-7},{"s":"g3","x":0.04,"v":5.2e-7},{"s":"g3","x":0.06,"v":5.2e-7},{"s":"g3","x":0.08,"v":5.2e-7},{"s":"g3","x":0.1,"v":5.2e-7},{"s":"g3","x":0.12,"v":5.2e-7},{"s":"g3","x":0.14,"v":5.2e-7},{"s":"g3","x":0.16,"v":5.2e-7},{"s":"g3","x":0.18,"v":5.2e-7},{"s":"g3","x":0.2,"v":5.2e-7},{"s":"g3","x":0.22,"v":5.2e-7},{"s":"g3","x":0.24,"v":5.2e-7},{"s":"g3","x":0.26,"v":5.2e-7},{"s":"g3","x":0.28,"v":5.2e-7},{"s":"g3","x":0.3,"v":5.2e-7},{"s":"g3","x":0.32,"v":5.2e-7},{"s":"g3","x":0.34,"v":5.2e-7},{"s":"g3","x":0.36,"v":5.2e-7},{"s":"g3","x":0.38,"v":5.2e-7},{"s":"g3","x":0.4,"v":5.2e-7},{"s":"g3","x":0.42,"v":5.2e-7},{"s":"g3","x":0.44,"v":5.2e-7},{"s":"g3","x":0.46,"v":5.2e-7},{"s":"g3","x":0.48,"v":5.2e-7},{"s":"g3","x":0.5,"v":5.2e-7},{"s":"g3","x":0.52,"v":5.2e-7},{"s":"g3","x":0.54,"v":5.2e-7},{"s":"g3","x":0.56,"v":5.2e-7},{"s":"g3","x":0.58,"v":5.2e-7},{"s":"g3","x":0.6,"v":5.2e-7},{"s":"g3","x":0.62,"v":5.2e-7},{"s":"g3","x":0.64,"v":5.2e-7},{"s":"g3","x":0.66,"v":5.2e-7},{"s":"g3","x":0.68,"v":5.2e-7},{"s":"g3","x":0.7,"v":5.2e-7},{"s":"g3","x":0.72,"v":5.2e-7},{"s":"g3","x":0.74,"v":1.3e-6},{"s":"g3","x":0.76,"v":6.3e-6},{"s":"g3","x":0.78,"v":1.6e-5},{"s":"g3","x":0.8,"v":3.2e-5},{"s":"g3","x":0.82,"v":7.1e-5},{"s":"g3","x":0.84,"v":0.00014},{"s":"g3","x":0.86,"v":0.00028},{"s":"g3","x":0.88,"v":0.0005},{"s":"g3","x":0.9,"v":0.00089},{"s":"g3","x":0.92,"v":0.002},{"s":"g3","x":0.94,"v":0.0055},{"s":"g3","x":0.96,"v":0.027},{"s":"g3","x":0.98,"v":0.95},{"s":"g3","x":1,"v":0.13},
{"s":"k","x":0,"v":4.1e-7},{"s":"k","x":0.02,"v":4.1e-7},{"s":"k","x":0.04,"v":4.1e-7},{"s":"k","x":0.06,"v":4.1e-7},{"s":"k","x":0.08,"v":4.1e-7},{"s":"k","x":0.1,"v":4.1e-7},{"s":"k","x":0.12,"v":4.1e-7},{"s":"k","x":0.14,"v":4.3e-7},{"s":"k","x":0.16,"v":4.3e-7},{"s":"k","x":0.18,"v":4.3e-7},{"s":"k","x":0.2,"v":4.3e-7},{"s":"k","x":0.22,"v":4.3e-7},{"s":"k","x":0.24,"v":4.3e-7},{"s":"k","x":0.26,"v":4.3e-7},{"s":"k","x":0.28,"v":4.3e-7},{"s":"k","x":0.3,"v":4.3e-7},{"s":"k","x":0.32,"v":4.3e-7},{"s":"k","x":0.34,"v":4.3e-7},{"s":"k","x":0.36,"v":4.3e-7},{"s":"k","x":0.38,"v":4.3e-7},{"s":"k","x":0.4,"v":4.3e-7},{"s":"k","x":0.42,"v":4.3e-7},{"s":"k","x":0.44,"v":4.3e-7},{"s":"k","x":0.46,"v":4.3e-7},{"s":"k","x":0.48,"v":4.3e-7},{"s":"k","x":0.5,"v":4.3e-7},{"s":"k","x":0.52,"v":4.3e-7},{"s":"k","x":0.54,"v":4.3e-7},{"s":"k","x":0.56,"v":4.3e-7},{"s":"k","x":0.58,"v":4.3e-7},{"s":"k","x":0.6,"v":4.5e-7},{"s":"k","x":0.62,"v":4.4e-7},{"s":"k","x":0.64,"v":4.4e-7},{"s":"k","x":0.66,"v":4.5e-7},{"s":"k","x":0.68,"v":7.1e-7},{"s":"k","x":0.7,"v":2.1e-6},{"s":"k","x":0.72,"v":8.5e-6},{"s":"k","x":0.74,"v":2.3e-5},{"s":"k","x":0.76,"v":5.6e-5},{"s":"k","x":0.78,"v":8.1e-5},{"s":"k","x":0.8,"v":0.00012},{"s":"k","x":0.82,"v":0.00028},{"s":"k","x":0.84,"v":0.00052},{"s":"k","x":0.86,"v":0.00095},{"s":"k","x":0.88,"v":0.0015},{"s":"k","x":0.9,"v":0.003},{"s":"k","x":0.92,"v":0.0068},{"s":"k","x":0.94,"v":0.019},{"s":"k","x":0.96,"v":0.079},{"s":"k","x":0.98,"v":0.89},{"s":"k","x":1,"v":0.23}
]},
"vconcat":[
{"width":630,"height":461,"data":{"name":"T"},
"resolve":{"axis":{"x":"independent","y":"independent"}},
"layer":[
{"transform":[{"filter":"datum.s != 'k'"}],
"mark":{"type":"line","strokeWidth":1.1,"clip":true},
"encoding":{
"x":{"field":"x","type":"quantitative","scale":{"domain":[-0.02,1.02],"nice":false,"zero":false},"axis":{"orient":"bottom","values":[0,0.2,0.4,0.6,0.8,1],"tickSize":-8,"labels":false,"title":null}},
"y":{"field":"v","type":"quantitative","scale":{"type":"log","domain":[1.1e-7,1.04],"nice":false},"axis":{"orient":"left","values":[1,0.1,0.01,0.001,0.0001,0.00001,0.000001],"tickSize":-8,"labelExpr":"datum.value == 1 || datum.value == 0.01 || datum.value == 0.0001 || datum.value == 0.000001 ? '10' : ''","labelFontSize":23,"labelPadding":33.5,"labelOffset":9,"title":null}},
"color":{"field":"s","type":"nominal","legend":null,"scale":{"domain":["y1","y2","y3","o1","o2","l1","b1","b2","g1","g2","g3"],"range":["#F0DC3C","#F0DC3C","#F0DC3C","#E69F00","#E69F00","#56B4E9","#0072B2","#0072B2","#009E73","#009E73","#009E73"]}}}},
{"transform":[{"filter":"datum.s != 'k'"}],
"mark":{"type":"point","shape":"square","filled":true,"size":44,"opacity":1,"clip":true},
"encoding":{
"x":{"field":"x","type":"quantitative","axis":{"orient":"top","values":[0,0.2,0.4,0.6,0.8,1],"tickSize":-8,"labels":false,"title":null}},
"y":{"field":"v","type":"quantitative","axis":{"orient":"left","values":[1,0.01,0.0001,0.000001],"ticks":false,"tickSize":0,"labelExpr":"datum.value == 1 ? '0' : datum.value == 0.01 ? '-2' : datum.value == 0.0001 ? '-4' : '-6'","labelFontSize":16,"labelAlign":"left","labelPadding":25,"labelOffset":-3,"title":null}},
"color":{"field":"s","type":"nominal","legend":null}}},
{"transform":[{"filter":"datum.s == 'k'"}],
"mark":{"type":"line","color":"#000","strokeWidth":4.5,"interpolate":"monotone","clip":true},
"encoding":{
"x":{"field":"x","type":"quantitative","axis":null},
"y":{"field":"v","type":"quantitative","axis":{"orient":"left","values":[0.9,0.8,0.7,0.6,0.5,0.4,0.3,0.2,0.09,0.08,0.07,0.06,0.05,0.04,0.03,0.02,0.009,0.008,0.007,0.006,0.005,0.004,0.003,0.002,0.0009,0.0008,0.0007,0.0006,0.0005,0.0004,0.0003,0.0002,9e-5,8e-5,7e-5,6e-5,5e-5,4e-5,3e-5,2e-5,9e-6,8e-6,7e-6,6e-6,5e-6,4e-6,3e-6,2e-6,9e-7,8e-7,7e-7,6e-7,5e-7,4e-7,3e-7,2e-7],"tickSize":-4,"labels":false,"title":null}}}},
{"data":{"values":[{"x":0.5,"v":0.47,"t":"ref-Gap to read-T"}]},
"mark":{"type":"text","fontSize":24,"align":"center","baseline":"middle"},
"encoding":{
"x":{"field":"x","type":"quantitative","axis":null},
"y":{"field":"v","type":"quantitative","axis":{"orient":"right","values":[1,0.1,0.01,0.001,0.0001,0.00001,0.000001],"tickSize":-8,"labels":false,"title":null}},
"text":{"field":"t"}}},
{"data":{"values":[{"x":0.749,"v":0.232,"t":"yellow:"},{"x":0.8465,"v":0.232,"t":"low depth"},{"x":0.749,"v":0.111,"t":"green:"},{"x":0.8465,"v":0.111,"t":"mid depth"},{"x":0.749,"v":0.0527,"t":"blue:"},{"x":0.8465,"v":0.0527,"t":"high depth"},{"x":0.749,"v":0.0251,"t":"black:"},{"x":0.8465,"v":0.0251,"t":"average"}]},
"mark":{"type":"text","fontSize":16.5,"align":"left","baseline":"middle"},
"encoding":{
"x":{"field":"x","type":"quantitative","axis":null},
"y":{"field":"v","type":"quantitative","axis":{"orient":"right","values":[0.9,0.8,0.7,0.6,0.5,0.4,0.3,0.2,0.09,0.08,0.07,0.06,0.05,0.04,0.03,0.02,0.009,0.008,0.007,0.006,0.005,0.004,0.003,0.002,0.0009,0.0008,0.0007,0.0006,0.0005,0.0004,0.0003,0.0002,9e-5,8e-5,7e-5,6e-5,5e-5,4e-5,3e-5,2e-5,9e-6,8e-6,7e-6,6e-6,5e-6,4e-6,3e-6,2e-6,9e-7,8e-7,7e-7,6e-7,5e-7,4e-7,3e-7,2e-7],"tickSize":-4,"labels":false,"title":null}},
"text":{"field":"t"}}}
]},
{"width":630,"height":457,"data":{"name":"G"},
"resolve":{"axis":{"x":"independent","y":"independent"}},
"layer":[
{"transform":[{"filter":"datum.s != 'k'"}],
"mark":{"type":"line","strokeWidth":1.1,"clip":true},
"encoding":{
"x":{"field":"x","type":"quantitative","scale":{"domain":[-0.02,1.02],"nice":false,"zero":false},"axis":{"orient":"bottom","values":[0,0.2,0.4,0.6,0.8,1],"tickSize":-8,"labelExpr":"datum.value == 0 ? '0' : format(datum.value, '.1f')","labelFontSize":23,"labelPadding":14,"title":"Read-Base Fraction","titleFontSize":23.5,"titlePadding":8}},
"y":{"field":"v","type":"quantitative","scale":{"type":"log","domain":[1.3e-7,1.23],"nice":false},"axis":{"orient":"left","values":[1,0.1,0.01,0.001,0.0001,0.00001,0.000001],"tickSize":-8,"labelExpr":"datum.value == 1 || datum.value == 0.01 || datum.value == 0.0001 || datum.value == 0.000001 ? '10' : ''","labelFontSize":23,"labelPadding":33.5,"labelOffset":9,"title":null}},
"color":{"field":"s","type":"nominal","legend":null,"scale":{"domain":["y1","y2","y3","o1","o2","l1","b1","b2","g1","g2","g3"],"range":["#F0DC3C","#F0DC3C","#F0DC3C","#E69F00","#E69F00","#56B4E9","#0072B2","#0072B2","#009E73","#009E73","#009E73"]}}}},
{"transform":[{"filter":"datum.s != 'k'"}],
"mark":{"type":"point","shape":"square","filled":true,"size":44,"opacity":1,"clip":true},
"encoding":{
"x":{"field":"x","type":"quantitative","axis":{"orient":"top","values":[0,0.2,0.4,0.6,0.8,1],"tickSize":-8,"labels":false,"title":null}},
"y":{"field":"v","type":"quantitative","axis":{"orient":"left","values":[1,0.01,0.0001,0.000001],"ticks":false,"tickSize":0,"labelExpr":"datum.value == 1 ? '0' : datum.value == 0.01 ? '-2' : datum.value == 0.0001 ? '-4' : '-6'","labelFontSize":16,"labelAlign":"left","labelPadding":25,"labelOffset":-3,"title":null}},
"color":{"field":"s","type":"nominal","legend":null}}},
{"transform":[{"filter":"datum.s == 'k'"}],
"mark":{"type":"line","color":"#000","strokeWidth":4.5,"interpolate":"monotone","clip":true},
"encoding":{
"x":{"field":"x","type":"quantitative","axis":null},
"y":{"field":"v","type":"quantitative","axis":{"orient":"left","values":[0.9,0.8,0.7,0.6,0.5,0.4,0.3,0.2,0.09,0.08,0.07,0.06,0.05,0.04,0.03,0.02,0.009,0.008,0.007,0.006,0.005,0.004,0.003,0.002,0.0009,0.0008,0.0007,0.0006,0.0005,0.0004,0.0003,0.0002,9e-5,8e-5,7e-5,6e-5,5e-5,4e-5,3e-5,2e-5,9e-6,8e-6,7e-6,6e-6,5e-6,4e-6,3e-6,2e-6,9e-7,8e-7,7e-7,6e-7,5e-7,4e-7,3e-7,2e-7],"tickSize":-4,"labels":false,"title":null}}}},
{"data":{"values":[{"x":0.5,"v":0.52,"t":"ref-Gap to read-Gap"}]},
"mark":{"type":"text","fontSize":24,"align":"center","baseline":"middle"},
"encoding":{
"x":{"field":"x","type":"quantitative","axis":null},
"y":{"field":"v","type":"quantitative","axis":{"orient":"right","values":[1,0.1,0.01,0.001,0.0001,0.00001,0.000001],"tickSize":-8,"labels":false,"title":null}},
"text":{"field":"t"}}},
{"data":{"values":[{"x":0.0264,"v":0.251,"t":"yellow:"},{"x":0.1254,"v":0.251,"t":"low depth"},{"x":0.0264,"v":0.119,"t":"green:"},{"x":0.1254,"v":0.119,"t":"mid depth"},{"x":0.0264,"v":0.056,"t":"blue:"},{"x":0.1254,"v":0.056,"t":"high depth"},{"x":0.0264,"v":0.0265,"t":"black:"},{"x":0.1254,"v":0.0265,"t":"average"}]},
"mark":{"type":"text","fontSize":16.5,"align":"left","baseline":"middle"},
"encoding":{
"x":{"field":"x","type":"quantitative","axis":null},
"y":{"field":"v","type":"quantitative","axis":{"orient":"right","values":[0.9,0.8,0.7,0.6,0.5,0.4,0.3,0.2,0.09,0.08,0.07,0.06,0.05,0.04,0.03,0.02,0.009,0.008,0.007,0.006,0.005,0.004,0.003,0.002,0.0009,0.0008,0.0007,0.0006,0.0005,0.0004,0.0003,0.0002,9e-5,8e-5,7e-5,6e-5,5e-5,4e-5,3e-5,2e-5,9e-6,8e-6,7e-6,6e-6,5e-6,4e-6,3e-6,2e-6,9e-7,8e-7,7e-7,6e-7,5e-7,4e-7,3e-7,2e-7],"tickSize":-4,"labels":false,"title":null}},
"text":{"field":"t"}}}
]}
]}
